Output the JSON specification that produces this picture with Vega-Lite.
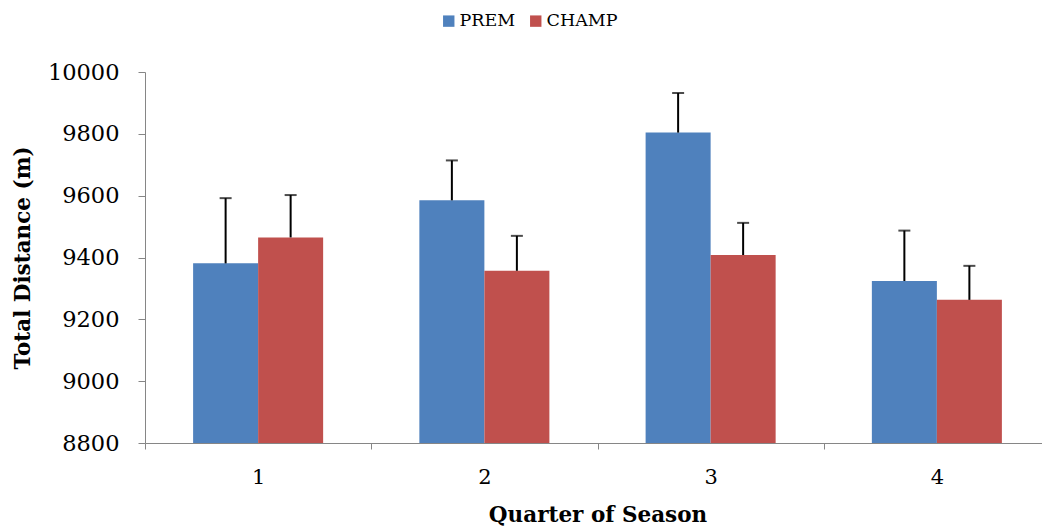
{
  "$schema": "https://vega.github.io/schema/vega-lite/v6.json",
  "width": 905,
  "height": 371,
  "autosize": {"type": "none"},
  "padding": {"left": 145, "top": 72, "right": 0, "bottom": 89},
  "background": "white",
  "config": {
    "view": {"stroke": null},
    "font": "DejaVu Serif",
    "axis": {"grid": false, "domainColor": "#868686", "tickColor": "#868686", "labelFont": "DejaVu Serif", "titleFont": "DejaVu Serif", "labelColor": "black", "titleColor": "black"}
  },
  "data": {
    "values": [
      {"quarter": "1", "league": "PREM", "mean": 9381, "upper": 9592},
      {"quarter": "1", "league": "CHAMP", "mean": 9465, "upper": 9602},
      {"quarter": "2", "league": "PREM", "mean": 9585, "upper": 9714},
      {"quarter": "2", "league": "CHAMP", "mean": 9357, "upper": 9470},
      {"quarter": "3", "league": "PREM", "mean": 9804, "upper": 9932},
      {"quarter": "3", "league": "CHAMP", "mean": 9408, "upper": 9512},
      {"quarter": "4", "league": "PREM", "mean": 9324, "upper": 9487},
      {"quarter": "4", "league": "CHAMP", "mean": 9263, "upper": 9373}
    ]
  },
  "encoding": {
    "x": {
      "field": "quarter", "type": "nominal",
      "scale": {"paddingInner": 0, "paddingOuter": 0},
      "axis": {"title": "Quarter of Season", "labelAngle": 0, "tickBand": "extent", "tickSize": 6, "labelFontSize": 21, "labelFontWeight": "normal", "labelPadding": 17, "titleFontSize": 21.5, "titleFontWeight": "bold", "titlePadding": 17}
    },
    "xOffset": {
      "field": "league", "type": "nominal",
      "sort": ["PREM", "CHAMP"],
      "scale": {"domain": ["PREM", "CHAMP"], "paddingInner": 0, "paddingOuter": 0.74}
    }
  },
  "layer": [
    {
      "mark": {"type": "bar", "clip": true},
      "encoding": {
        "y": {
          "field": "mean", "type": "quantitative",
          "scale": {"domain": [8800, 10000], "zero": false, "nice": false},
          "axis": {"title": "Total Distance (m)", "format": "d", "values": [8800, 9000, 9200, 9400, 9600, 9800, 10000], "tickSize": 7, "labelFontSize": 22.5, "labelPadding": 19, "titleFontSize": 21.5, "titleFontWeight": "bold", "titlePadding": 13}
        },
        "color": {
          "field": "league", "type": "nominal",
          "scale": {"domain": ["PREM", "CHAMP"], "range": ["#4F81BD", "#C0504D"]},
          "legend": {"title": null, "orient": "none", "direction": "horizontal", "legendX": 295, "legendY": -60, "symbolType": "square", "symbolSize": 130, "symbolStrokeWidth": 0, "labelFontSize": 17.5, "labelFont": "DejaVu Serif", "columnPadding": 11, "labelOffset": 2}
        }
      }
    },
    {
      "mark": {"type": "rule", "color": "black", "strokeWidth": 2},
      "encoding": {
        "y": {"field": "mean", "type": "quantitative"},
        "y2": {"field": "upper"}
      }
    },
    {
      "mark": {"type": "tick", "color": "black", "thickness": 2, "size": 12},
      "encoding": {
        "y": {"field": "upper", "type": "quantitative"}
      }
    }
  ]
}
